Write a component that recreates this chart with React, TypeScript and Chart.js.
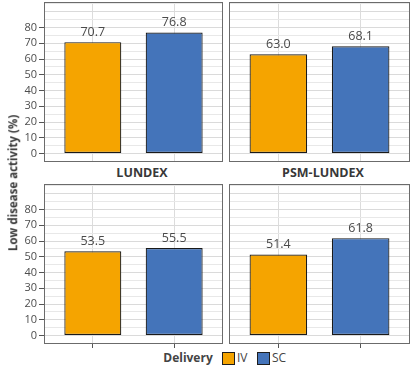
import React, { useEffect, useRef } from 'react';
import { Chart, registerables } from 'chart.js';

Chart.register(...registerables);

// ---- data ----
const deliveries = ['IV', 'SC'];
const facetLabels = ['LUNDEX', 'PSM-LUNDEX'];
const lundexTop = [70.7, 76.8];
const psmLundexTop = [63.0, 68.1];
const lundexBottom = [53.5, 55.5];
const psmLundexBottom = [51.4, 61.8];
const yTickLabels = [0, 10, 20, 30, 40, 50, 60, 70, 80];
const yGridValues = [0, 5, 10, 15, 20, 25, 30, 35, 40, 45, 50, 55, 60, 65, 70, 75, 80, 85, 90, 95];
const yAxisTitle = 'Low disease activity (%)';
const legendTitle = 'Delivery';

const deliveryColors = ['#F5A400', '#4474BA'];
const FONT = "'Open Sans', 'DejaVu Sans', sans-serif";

const framePlugin = {
  id: 'panelFrame',
  afterDraw(chart: any) {
    const { ctx, chartArea } = chart;
    ctx.save();
    ctx.strokeStyle = '#6b6b6b';
    ctx.lineWidth = 1;
    ctx.strokeRect(chartArea.left + 0.5, chartArea.top + 0.5, chartArea.right - chartArea.left - 1, chartArea.bottom - chartArea.top - 1);
    ctx.restore();
  },
};

const valueLabelPlugin = {
  id: 'valueLabels',
  afterDatasetsDraw(chart: any) {
    const ctx = chart.ctx;
    const meta = chart.getDatasetMeta(0);
    const data = chart.data.datasets[0].data as any[];
    ctx.save();
    ctx.font = `12.5px ${FONT}`;
    ctx.fillStyle = '#4a4a4a';
    ctx.textAlign = 'center';
    ctx.textBaseline = 'middle';
    meta.data.forEach((el: any, i: number) => {
      ctx.fillText(Number(data[i].y).toFixed(1), el.x, el.y - 10);
    });
    ctx.restore();
  },
};

type PanelProps = {
  values: number[];
  left: number;
  top: number;
  width: number;
  height: number;
  padRight: number;
  showY: boolean;
  showXTicks: boolean;
};

function zeroPad(s: any) {
  s.paddingTop = 0;
  s.paddingBottom = 0;
  s.paddingLeft = 0;
  s.paddingRight = 0;
}

function Panel({ values, left, top, width, height, padRight, showY, showXTicks }: PanelProps) {
  const ref = useRef<HTMLCanvasElement | null>(null);
  useEffect(() => {
    if (!ref.current) return;
    const chart = new Chart(ref.current, {
      type: 'bar',
      data: {
        datasets: [
          {
            data: deliveries.map((_, i) => ({ x: i + 1, y: values[i] })),
            backgroundColor: deliveryColors,
            borderColor: '#1a1a1a',
            borderWidth: 1.2,
            borderSkipped: false,
            categoryPercentage: 1,
            barPercentage: 0.7,
          } as any,
        ],
      },
      options: {
        animation: false,
        responsive: false,
        devicePixelRatio: 1,
        layout: { padding: { top: 2, right: padRight, bottom: 0, left: 0 } },
        plugins: { legend: { display: false }, tooltip: { enabled: false } },
        scales: {
          x: {
            type: 'linear',
            min: 0.4,
            max: 2.6,
            offset: false,
            afterBuildTicks: (s: any) => {
              s.ticks = deliveries.map((_, i) => ({ value: i + 1 }));
            },
            ticks: { display: false },
            grid: {
              offset: false,
              color: '#dcdcdc',
              lineWidth: 1,
              drawTicks: showXTicks,
              tickLength: 4,
              tickColor: '#555555',
            },
            border: { display: false },
            afterFit: (s: any) => {
              s.height = showXTicks ? 5 : 0;
              zeroPad(s);
            },
          } as any,
          y: {
            type: 'linear',
            min: -5.4,
            max: 96.2,
            afterBuildTicks: (s: any) => {
              s.ticks = yGridValues.map((v) => ({ value: v }));
            },
            ticks: {
              display: showY,
              autoSkip: false,
              padding: 2,
              color: '#4d4d4d',
              font: { family: FONT, size: 11 },
              callback: (v: any) => (yTickLabels.includes(Number(v)) ? String(v) : ''),
            },
            grid: {
              color: (c: any) => (c.tick && c.tick.value % 10 === 0 ? '#dadada' : '#e8e8e8'),
              lineWidth: 1,
              drawTicks: showY,
              tickLength: 5,
              tickColor: (c: any) => (c.tick && yTickLabels.includes(c.tick.value) ? '#555555' : 'rgba(0,0,0,0)'),
            },
            border: { display: false },
            afterFit: (s: any) => {
              s.width = showY ? 44 : 0;
              zeroPad(s);
            },
          } as any,
        },
      },
      plugins: [framePlugin, valueLabelPlugin],
    });
    return () => chart.destroy();
  }, []);
  return (
    <canvas
      ref={ref}
      width={width}
      height={height}
      style={{ position: 'absolute', left, top, width, height }}
    />
  );
}

const textBase: React.CSSProperties = {
  position: 'absolute',
  fontFamily: FONT,
  whiteSpace: 'nowrap',
  transform: 'translate(-50%, -50%)',
  lineHeight: 1,
};

export default function App() {
  return (
    <div
      style={{
        position: 'fixed',
        left: 0,
        top: 0,
        width: 416,
        height: 368,
        background: '#ffffff',
        overflow: 'hidden',
      }}
    >
      <Panel values={lundexTop} left={0} top={0} width={224} height={162} padRight={1} showY={true} showXTicks={false} />
      <Panel values={psmLundexTop} left={229} top={0} width={181} height={162} padRight={0} showY={false} showXTicks={false} />
      <Panel values={lundexBottom} left={0} top={182} width={224} height={167} padRight={1} showY={true} showXTicks={true} />
      <Panel values={psmLundexBottom} left={229} top={182} width={181} height={167} padRight={0} showY={false} showXTicks={true} />

      <div style={{ ...textBase, left: 142, top: 173, fontSize: 12.5, fontWeight: 700, color: '#383838' }}>{facetLabels[0]}</div>
      <div style={{ ...textBase, left: 323, top: 173, fontSize: 12.5, fontWeight: 700, color: '#383838' }}>{facetLabels[1]}</div>

      <div
        style={{
          ...textBase,
          left: 13,
          top: 183,
          fontSize: 11.5,
          fontWeight: 700,
          color: '#383838',
          transform: 'translate(-50%, -50%) rotate(-90deg)',
        }}
      >
        {yAxisTitle}
      </div>

      <div style={{ ...textBase, left: 188, top: 358, fontSize: 12, fontWeight: 700, color: '#444444' }}>{legendTitle}</div>
      {deliveries.map((d, i) => (
        <React.Fragment key={d}>
          <div
            style={{
              position: 'absolute',
              left: 222 + i * 35,
              top: 352,
              width: 11,
              height: 11,
              background: deliveryColors[i],
              border: '1px solid #1e1e1e',
            }}
          />
          <div
            style={{
              position: 'absolute',
              left: 237 + i * 35,
              top: 351,
              fontFamily: FONT,
              fontSize: 12,
              lineHeight: '14px',
              color: '#444444',
              whiteSpace: 'nowrap',
            }}
          >
            {d}
          </div>
        </React.Fragment>
      ))}
    </div>
  );
}
